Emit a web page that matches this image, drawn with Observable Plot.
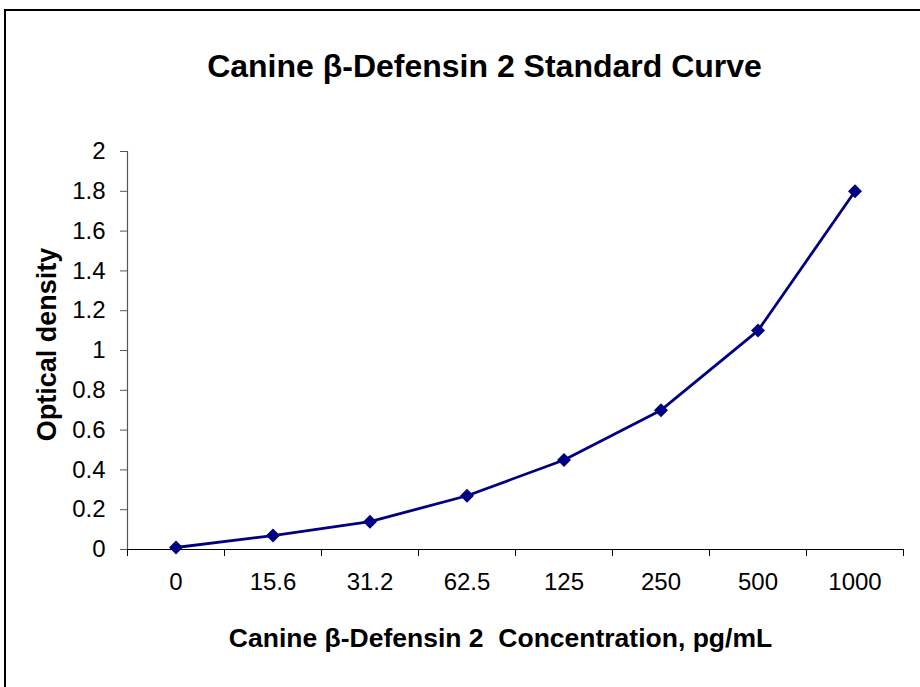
<!DOCTYPE html>
<html>
<head>
<meta charset="utf-8">
<script src="https://cdn.jsdelivr.net/npm/d3@7"></script>
<script src="https://cdn.jsdelivr.net/npm/@observablehq/plot@0.6"></script>
<style>
  html, body { margin: 0; padding: 0; background: #fff; overflow: hidden; }
  #wrap { position: relative; width: 920px; height: 687px; }
  #border { position: absolute; left: 4px; top: 9px; width: 1000px; height: 1000px; border: 2px solid #000; box-sizing: border-box; }
  #chart { position: absolute; left: 0; top: 0; }
</style>
</head>
<body>
<div id="wrap"><div id="border"></div><div id="chart"></div></div>
<script>
const categories = ["0", "15.6", "31.2", "62.5", "125", "250", "500", "1000"];
const values = [0.01, 0.07, 0.14, 0.27, 0.45, 0.70, 1.10, 1.80];
const yTicks = [0, 0.2, 0.4, 0.6, 0.8, 1, 1.2, 1.4, 1.6, 1.8, 2];
const titleText = "Canine β-Defensin 2 Standard Curve";
const xLabelText = "Canine β-Defensin 2  Concentration, pg/mL";
const yLabelText = "Optical density";

const data = categories.map((c, i) => ({i, c, v: values[i]}));
const centers = categories.map((c, i) => i);
const bounds = d3.range(categories.length + 1).map(i => i - 0.5);

const font = "'Liberation Sans', Arial, sans-serif";
const navy = "#000080";

const chart = Plot.plot({
  width: 920,
  height: 687,
  marginLeft: 127,
  marginRight: 17,
  marginTop: 151,
  marginBottom: 138,
  style: {fontFamily: font, fontSize: "24px", color: "#000", background: "transparent"},
  x: {type: "linear", domain: [-0.5, categories.length - 0.5]},
  y: {domain: [0, 2]},
  marks: [
    Plot.axisY({ticks: yTicks, tickSize: 7, tickPadding: 15, tickFormat: d => String(+d.toFixed(1)), label: null, stroke: "#555", fontSize: 24}),
    Plot.axisX({ticks: bounds, tickSize: 7, tickFormat: () => "", label: null, stroke: "#000"}),
    Plot.axisX({ticks: centers, tickSize: 0, tickPadding: 23, tickFormat: i => categories[i], label: null, fontSize: 24}),
    Plot.ruleX([-0.5], {stroke: "#555", strokeWidth: 1.2}),
    Plot.ruleY([0], {stroke: "#000", strokeWidth: 1.2}),
    Plot.line(data, {x: "i", y: "v", stroke: navy, strokeWidth: 2.8}),
    Plot.dot(data, {x: "i", y: "v", symbol: "diamond2", r: 6.3, fill: navy, stroke: "none"}),
    Plot.text([titleText], {frameAnchor: "top", dx: -31, dy: -85, fontSize: 32, fontWeight: "bold", lineAnchor: "middle", fill: "#000"}),
    Plot.text([xLabelText], {frameAnchor: "bottom", dx: -15, dy: 89, fontSize: 26.5, fontWeight: "bold", lineAnchor: "middle", fill: "#000"}),
    Plot.text([yLabelText], {frameAnchor: "left", dx: -80, dy: -6, rotate: -90, textAnchor: "middle", fontSize: 27, fontWeight: "bold", lineAnchor: "middle", fill: "#000"})
  ]
});
document.getElementById("chart").appendChild(chart);
</script>
</body>
</html>
